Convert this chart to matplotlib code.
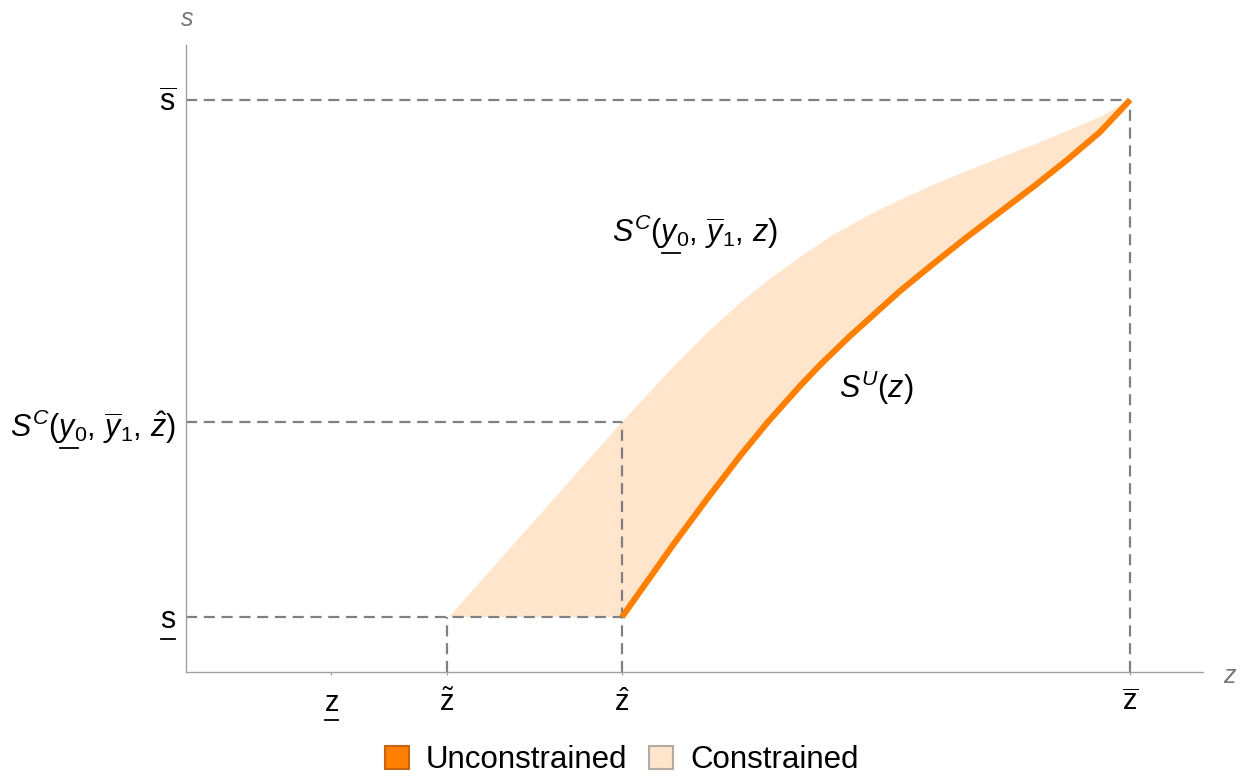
import matplotlib.pyplot as plt
import matplotlib.patches as mpatches
from matplotlib.lines import Line2D
from matplotlib.transforms import IdentityTransform
import numpy as np

plt.rcParams['font.family'] = ['Liberation Sans', 'DejaVu Sans']
plt.rcParams['mathtext.fontset'] = 'custom'
plt.rcParams['mathtext.rm'] = 'Liberation Sans'
plt.rcParams['mathtext.it'] = 'Liberation Sans:italic'
plt.rcParams['mathtext.bf'] = 'Liberation Sans:bold'

# key levels
z_low, z_tilde, z_hat, z_bar = 1.45, 2.61, 4.36, 9.44
s_low, s_hat, s_bar = 0.55, 2.50, 5.72

# unconstrained S^U(z)
z_u = [4.36, 4.87, 5.21, 5.54, 5.81, 6.14, 6.35, 6.64, 7.14, 7.47, 7.81, 8.14, 8.47, 8.81, 9.14, 9.44]
s_u = [0.55, 1.27, 1.73, 2.16, 2.49, 2.86, 3.08, 3.36, 3.81, 4.08, 4.35, 4.60, 4.85, 5.12, 5.40, 5.72]

# constrained upper edge S^C(y0, y1, z)
z_c = [2.63, 4.36, 4.87, 5.24, 5.54, 5.81, 6.14, 6.47, 6.81, 7.14, 7.47, 7.81, 8.14, 8.47, 8.81, 9.14, 9.44]
s_c = [0.55, 2.50, 3.05, 3.42, 3.69, 3.91, 4.15, 4.37, 4.56, 4.72, 4.87, 5.01, 5.14, 5.27, 5.41, 5.55, 5.72]

xtick_pos = [z_low, z_tilde, z_hat, z_bar]
xtick_lab = [r'$\mathrm{z}$', r'$\tilde{\mathrm{z}}$', r'$\hat{\mathrm{z}}$', r'$\overline{\mathrm{z}}$']
ytick_pos = [s_low, s_hat, s_bar]
ytick_lab = [r'$\mathrm{s}$', r'$S^C(y_0,\,\overline{y}_1,\,\hat{z})$', r'$\overline{\mathrm{s}}$']

orange = '#ff7f00'
light = '#ffe5cc'
dash = '#808080'

fig = plt.figure(figsize=(12.47, 7.78), dpi=100)
ax = fig.add_axes([186/1247, (778-672)/778, (1203-186)/1247, (672-45)/778])
ax.set_xlim(0, 10.17)
ax.set_ylim(0, 6.27)

# shaded constrained region
ax.fill(np.concatenate([z_c, z_u[::-1]]), np.concatenate([s_c, s_u[::-1]]),
        color=light, lw=0, zorder=1)

# dashed guides
dkw = dict(color=dash, lw=1.6, ls=(0, (5, 3)), zorder=2)
ax.plot([0, z_bar], [s_bar, s_bar], **dkw)
ax.plot([0, z_hat], [s_hat, s_hat], **dkw)
ax.plot([0, z_hat], [s_low, s_low], **dkw)
ax.plot([z_tilde, z_tilde], [0, s_low], **dkw)
ax.plot([z_hat, z_hat], [0, s_hat], **dkw)
ax.plot([z_bar, z_bar], [0, s_bar], **dkw)

ax.plot(z_u, s_u, color=orange, lw=4.4, zorder=3, solid_capstyle='butt', solid_joinstyle='round')

ax.spines['top'].set_visible(False)
ax.spines['right'].set_visible(False)
for sp in ['left', 'bottom']:
    ax.spines[sp].set_color('#a0a0a0')
    ax.spines[sp].set_linewidth(1.0)

ax.set_xticks(xtick_pos, xtick_lab, fontsize=21)
ax.set_yticks(ytick_pos, ytick_lab, fontsize=22)
ax.tick_params(axis='x', length=2, color='#a0a0a0', pad=10)
ax.tick_params(axis='y', length=0, pad=7)

ax.text(0.01, 6.53, '$s$', color='#777777', fontsize=18, ha='center', va='center', clip_on=False)
ax.text(10.44, -0.04, '$z$', color='#777777', fontsize=18, ha='center', va='center', clip_on=False)

t_sc = ax.text(5.09, 4.40, r'$S^C(y_0,\,\overline{y}_1,\,z)$', fontsize=22, ha='center', va='center')
ax.text(6.90, 2.84, r'$S^U(z)$', fontsize=22, ha='center', va='center')

h1 = mpatches.Patch(facecolor=orange, edgecolor='#c86414', lw=1.5, label='Unconstrained')
h2 = mpatches.Patch(facecolor=light, edgecolor='#b4aaa0', lw=1.5, label='Constrained')
fig.legend(handles=[h1, h2], loc='center', bbox_to_anchor=(622/1247, 1 - 760/778), ncol=2,
           frameon=False, fontsize=22.5, handlelength=0.75, handleheight=0.75,
           handletextpad=0.55, columnspacing=0.7)

# underlines (mathtext has no \underline), measured from the rendered text
fig.canvas.draw()
rend = fig.canvas.get_renderer()


def text_width(s, size):
    t = fig.text(0, 0, s, fontsize=size)
    w = t.get_window_extent(rend).width
    t.remove()
    return w


def underline(t, prefix, ch, dx, dy):
    bb = t.get_window_extent(rend)
    size = t.get_fontsize()
    x0 = bb.x0 + (text_width(prefix, size) if prefix else 0) + dx
    w = text_width(ch, size)
    fig.add_artist(Line2D([x0 + 1, x0 + w - 1], [bb.y0 + dy] * 2, transform=IdentityTransform(),
                          color='black', lw=1.3))


xl = ax.get_xticklabels()
yl = ax.get_yticklabels()
underline(xl[0], None, r'$\mathrm{z}$', 0, -3)
underline(yl[0], None, r'$\mathrm{s}$', 0, -3)
underline(yl[1], r'$S^C($', r'$y$', -2, -2)
underline(t_sc, r'$S^C($', r'$y$', -2, -2)

fig.savefig('out.png', dpi=100)
